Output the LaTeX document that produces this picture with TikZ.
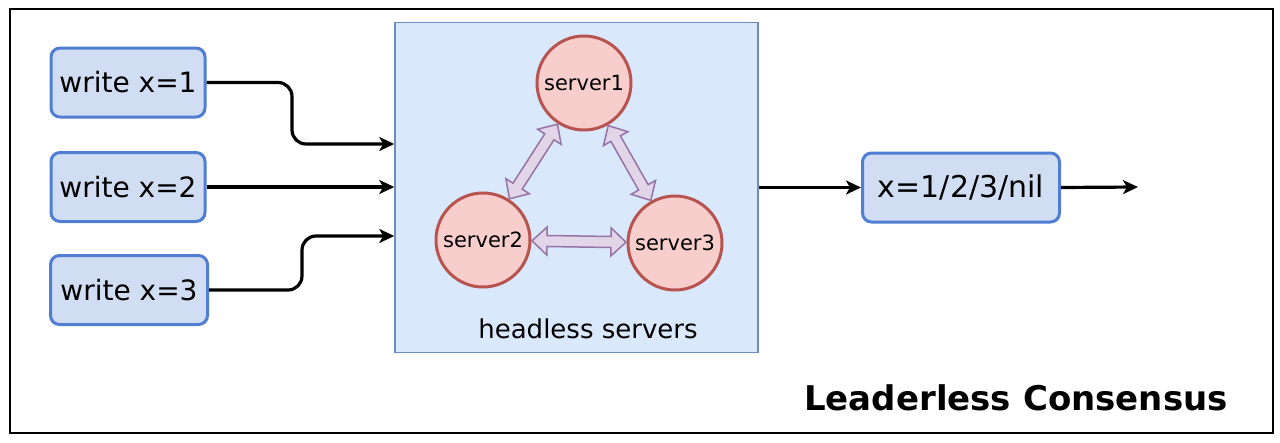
\documentclass[tikz,border=0pt]{standalone}
\usepackage{fontspec}
\setmainfont{DejaVu Sans}
\usetikzlibrary{arrows.meta,positioning,calc}
\definecolor{boxfill}{HTML}{D0DDF2}
\definecolor{boxdraw}{HTML}{4F7ED3}
\definecolor{contfill}{HTML}{DAE8FC}
\definecolor{contdraw}{HTML}{6C8EBF}
\definecolor{srvfill}{HTML}{F8CECC}
\definecolor{srvdraw}{HTML}{B85450}
\definecolor{pfill}{HTML}{E1D5E7}
\definecolor{pdraw}{HTML}{9673A6}
\begin{document}
\begin{tikzpicture}[x=1pt,y=-1pt,
  wbox/.style={draw=boxdraw,fill=boxfill,line width=3pt,rounded corners=9pt,minimum width=154pt,minimum height=69pt,inner sep=0pt,font=\fontsize{28}{32}\selectfont},
  srv/.style={circle,draw=srvdraw,fill=srvfill,line width=3pt,minimum size=94pt,inner sep=0pt,font=\fontsize{21}{24}\selectfont},
  arr/.style={line width=3.2pt,-{Stealth[length=15pt,width=14pt,inset=4pt]}},
  parr/.style={draw=pdraw,fill=pfill,line width=1.5pt,line join=miter,
    to path={
      ($(\tikztostart)!49pt!(\tikztotarget)$) coordinate (pa)
      ($(\tikztotarget)!49pt!(\tikztostart)$) coordinate (pb)
      ($(pa)!15pt!(pb)$) coordinate (ca)
      ($(pb)!15pt!(pa)$) coordinate (cb)
      (pa) -- ($(ca)!14pt!90:(pb)$) -- ($(ca)!5.5pt!90:(pb)$)
      -- ($(cb)!5.5pt!-90:(pa)$) -- ($(cb)!14pt!-90:(pa)$) -- (pb)
      -- ($(cb)!14pt!90:(pa)$) -- ($(cb)!5.5pt!90:(pa)$)
      -- ($(ca)!5.5pt!-90:(pb)$) -- ($(ca)!14pt!-90:(pb)$) -- cycle
    }}
]
\useasboundingbox (0,0) rectangle (1280,442);
\node[draw=black,line width=2pt,minimum width=1263pt,minimum height=424pt,inner sep=0pt] (frame) at (641.5,220.5) {};
\node[draw=contdraw,fill=contfill,line width=1.5pt,minimum width=363pt,minimum height=330pt,inner sep=0pt] (hb) at (576.5,187.5) {};
\node[wbox] (w1) at (128,82.5) {write x=1};
\node[wbox] (w2) at (128,187) {write x=2};
\node[wbox,minimum width=157pt] (w3) at (129,290) {write x=3};
\node[srv] (s1) at (584,83) {server1};
\node[srv] (s2) at (483,240) {server2};
\node[srv] (s3) at (675,243) {server3};
\node[font=\fontsize{26}{30}\selectfont] (hl) at (588,329) {headless servers};
\node[wbox,minimum width=197pt,font=\fontsize{30}{34}\selectfont] (out) at (961,187.5) {x=1/2/3/nil};
\coordinate (end) at (1138,187);
\node[font=\bfseries\fontsize{34}{38}\selectfont] (title) at (1016,398) {Leaderless Consensus};
\draw[arr,rounded corners=14pt] (w1.east) -| (292,144) -- (hb.west |- 0,144);
\draw[arr] (w2.east) -- (w2.east -| hb.west);
\draw[arr,rounded corners=14pt] (w3.east) -| (302,236) -- (hb.west |- 0,236);
\draw[arr] (hb.east |- out.west) -- (out.west);
\draw[arr] (out.east) -- (end);
\path[parr] (s1) to (s2);
\path[parr] (s1) to (s3);
\path[parr] (s2) to (s3);
\end{tikzpicture}
\end{document}
